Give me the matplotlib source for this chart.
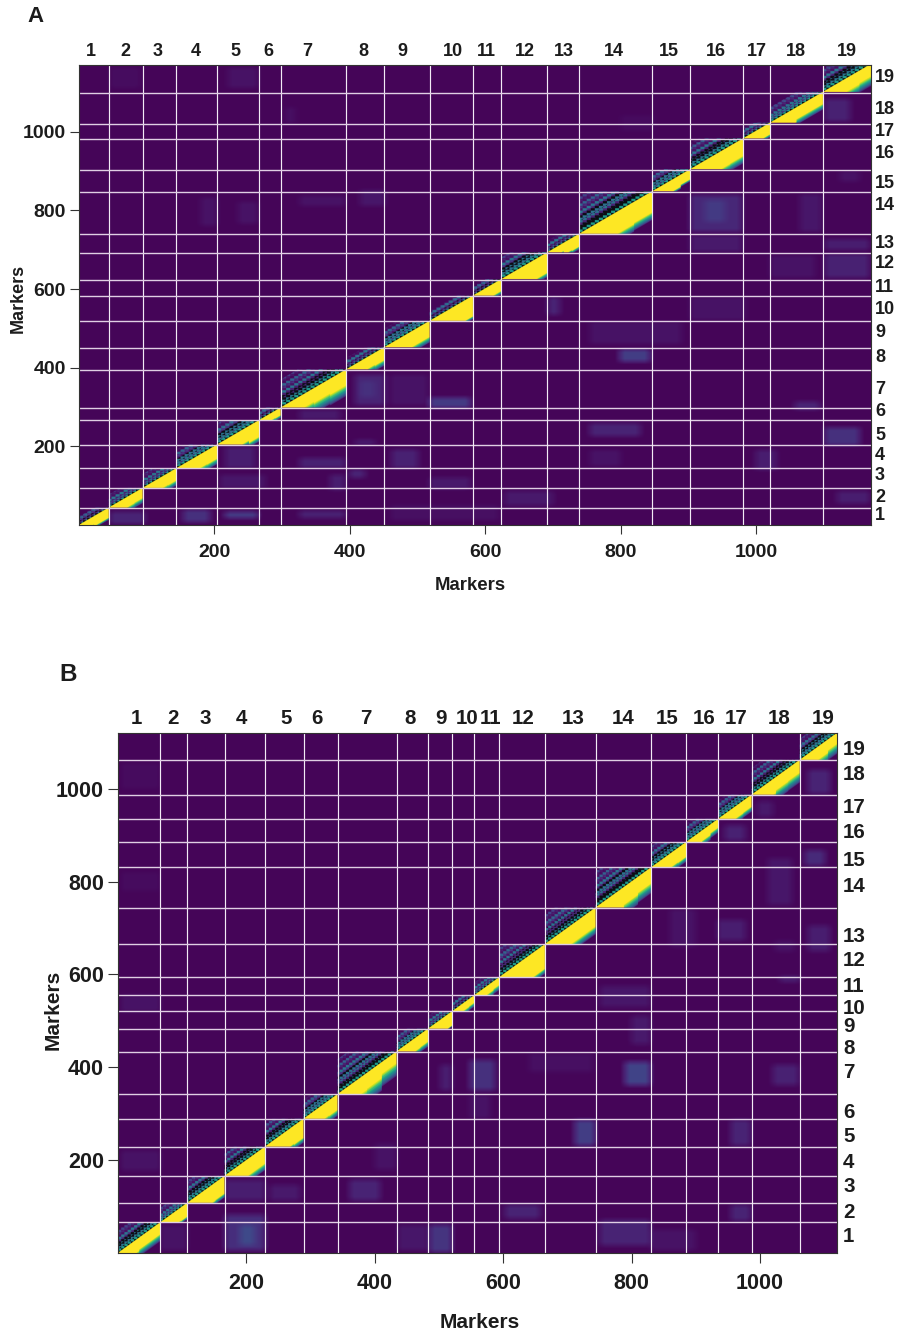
import numpy as np
import matplotlib
matplotlib.use('Agg')
import matplotlib.pyplot as plt

plt.rcParams['font.family'] = ['Liberation Sans', 'DejaVu Sans']
plt.rcParams['font.weight'] = 'bold'

W = 899
H = 1333
TEXT = '#1c1c1c'

chrom_names = [str(i) for i in range(1, 20)]

# chromosome ends, in markers
ends_a = [44, 94, 144, 204, 266, 298, 395, 451, 518, 582, 624, 692, 739, 847, 903, 981, 1021, 1099, 1170]
ends_b = [66, 108, 166, 229, 289, 342, 434, 483, 521, 555, 594, 665, 744, 831, 885, 935, 987, 1062, 1120]

# width of the saturated band under the diagonal, four steps along each chromosome
bands_a = [[12, 20, 25, 25], [24, 24, 26, 25], [28, 28, 29, 30], [36, 34, 34, 35], [27, 30, 36, 42],
           [16, 17, 18, 19], [31, 34, 37, 40], [20, 26, 30, 32], [43, 42, 40, 40], [50, 55, 55, 52],
           [28, 28, 29, 29], [44, 48, 50, 51], [14, 20, 30, 32], [60, 58, 56, 53], [37, 38, 30, 25],
           [49, 47, 45, 44], [30, 30, 30, 29], [39, 36, 30, 30], [40, 38, 34, 31]]
fades_a = [6, 14, 14, 15, 13, 8, 28, 15, 15, 8, 10, 12, 8, 20, 6, 20, 8, 15, 25]
reach_a = [22, 34, 36, 48, 54, 25, 72, 30, 48, 26, 24, 56, 30, 98, 48, 66, 28, 40, 62]

bands_b = [[31, 28, 25, 25], [25, 26, 28, 29], [43, 41, 38, 37], [30, 32, 36, 36], [34, 36, 38, 40],
           [30, 31, 32, 33], [26, 36, 34, 25], [27, 28, 28, 27], [30, 30, 30, 30], [17, 16, 16, 15],
           [22, 20, 18, 16], [44, 48, 52, 52], [44, 42, 40, 40], [47, 44, 38, 34], [27, 28, 30, 31],
           [28, 27, 22, 18], [28, 26, 26, 25], [33, 33, 28, 27], [36, 34, 28, 23]]
fades_b = [16, 6, 10, 15, 12, 14, 28, 12, 3, 10, 12, 12, 18, 22, 12, 12, 12, 22, 22]
reach_b = [50, 32, 50, 56, 54, 42, 76, 38, 28, 24, 28, 64, 66, 80, 46, 40, 40, 58, 46]

# faint off-diagonal patches, markers
patch_x0_a = [903, 925, 1065, 903, 1021, 1102, 1102, 1102, 1124, 755, 693, 903, 799, 408, 415, 518, 460, 326, 408, 462, 755, 1102, 216, 326, 371, 400, 208, 46, 154, 216, 326, 460, 630, 1120, 518, 755, 1000, 1058, 46, 220, 180, 235, 415, 326, 305, 800]
patch_x1_a = [979, 954, 1097, 979, 1087, 1168, 1168, 1139, 1153, 890, 710, 984, 843, 452, 437, 578, 515, 385, 437, 501, 829, 1153, 260, 393, 393, 422, 275, 97, 193, 264, 393, 620, 700, 1168, 578, 800, 1030, 1094, 90, 264, 204, 264, 452, 393, 320, 850]
patch_y0_a = [745, 770, 745, 694, 628, 628, 699, 1025, 872, 460, 534, 521, 415, 305, 325, 298, 305, 267, 204, 145, 226, 203, 145, 145, 89, 120, 94, 3, 8, 18, 18, 12, 50, 55, 92, 150, 140, 293, 1110, 1110, 760, 765, 810, 810, 1020, 1000]
patch_y1_a = [837, 824, 839, 735, 684, 687, 725, 1081, 898, 515, 577, 577, 445, 381, 365, 323, 381, 292, 216, 191, 257, 247, 198, 170, 127, 140, 127, 33, 38, 33, 36, 50, 85, 85, 120, 190, 190, 313, 1160, 1160, 830, 820, 850, 835, 1060, 1040]
patch_v_a = [0.11, 0.17, 0.06, 0.07, 0.05, 0.09, 0.08, 0.09, 0.05, 0.05, 0.1, 0.05, 0.18, 0.1, 0.14, 0.17, 0.05, 0.07, 0.08, 0.09, 0.1, 0.14, 0.08, 0.09, 0.08, 0.1, 0.06, 0.1, 0.14, 0.18, 0.09, 0.04, 0.07, 0.08, 0.07, 0.05, 0.08, 0.1, 0.035, 0.05, 0.05, 0.05, 0.06, 0.05, 0.04, 0.03]

patch_x0_b = [167, 190, 486, 751, 436, 66, 603, 237, 361, 167, 712, 790, 548, 502, 1020, 955, 955, 830, 934, 860, 1070, 1075, 945, 996, 1012, 1075, 1023, 1031, 800, 548, 751, 4, 4, 4, 4, 400, 640]
patch_x1_b = [229, 213, 520, 829, 483, 108, 657, 283, 408, 229, 743, 829, 587, 520, 1060, 985, 985, 900, 977, 900, 1101, 1109, 977, 1020, 1050, 1109, 1054, 1062, 829, 580, 829, 66, 66, 66, 66, 434, 740]
patch_y0_b = [6, 17, 2, 17, 6, 6, 75, 114, 114, 114, 232, 362, 351, 351, 362, 232, 70, 6, 674, 660, 835, 990, 889, 940, 750, 650, 650, 585, 450, 290, 530, 178, 520, 780, 1000, 180, 390]
patch_y1_b = [82, 60, 60, 71, 60, 60, 103, 146, 157, 157, 286, 411, 415, 405, 405, 286, 103, 50, 717, 740, 867, 1040, 921, 972, 850, 705, 672, 595, 510, 340, 575, 220, 555, 820, 1055, 235, 430]
patch_v_b = [0.13, 0.22, 0.15, 0.1, 0.06, 0.05, 0.1, 0.07, 0.1, 0.08, 0.18, 0.2, 0.14, 0.08, 0.09, 0.1, 0.1, 0.05, 0.08, 0.05, 0.12, 0.1, 0.09, 0.07, 0.06, 0.08, 0.05, 0.1, 0.07, 0.05, 0.06, 0.05, 0.05, 0.03, 0.03, 0.05, 0.04]

# top and right chromosome labels, picture pixels
top_x_a = [91, 125, 158, 196, 235, 268, 307, 363, 402, 453, 486, 525, 564, 614, 669, 716, 757, 796, 847]
right_y_a = [515, 497, 475, 455, 436, 412, 390, 358, 332, 310, 287, 264, 243, 205, 183, 153, 131, 109, 78]
top_x_b = [136, 173, 205, 241, 286, 317, 366, 410, 441, 467, 491, 523, 573, 623, 667, 704, 736, 779, 823]
right_y_b = [1237, 1212, 1187, 1162, 1137, 1112, 1073, 1048, 1027, 1009, 986, 961, 936, 886, 860, 833, 808, 775, 750]

tick_values = [200, 400, 600, 800, 1000]

edge_levels = [0.92, 0.8, 0.68, 0.58, 0.46, 0.36, 0.26, 0.14]
moire_levels = [[-1, -1, 0.55], [-1, 0.38, 0.1], [0.38, 0.08, -1], [0.4, 0.16, 0.05], [0.32, 0.1, 0.04], [0.2, 0.06, 0.02]]
base_level = 0.012
soften = 15


def add_block(mat, start, end, bands, fade, reach, tile):
    size = end - start
    for x in range(start, end):
        w = bands[(x - start) * len(bands) // size]
        for y in range(start, x + 1):
            d = x - y
            if d <= w:
                mat[y, x] = 1.0
            elif d < w + fade:
                mat[y, x] = edge_levels[(d - w) * len(edge_levels) // fade]
        for y in range(x + 1, end):
            d = y - x
            if d < reach:
                row = moire_levels[d * len(moire_levels) // reach]
                mat[y, x] = row[(x // tile - y // tile) % len(row)]


def make_matrix(ends, bands, fades, reach, x0, x1, y0, y1, v, tile):
    n = ends[-1]
    mat = np.full((n, n), base_level)
    for i in range(len(v)):
        part = mat[y0[i]:y1[i], x0[i]:x1[i]]
        mat[y0[i]:y1[i], x0[i]:x1[i]] = np.maximum(part, v[i])
    # patches have soft edges in the picture
    kernel = np.ones(soften) / soften
    mat = np.apply_along_axis(lambda r: np.convolve(r, kernel, mode='same'), 0, mat)
    mat = np.apply_along_axis(lambda r: np.convolve(r, kernel, mode='same'), 1, mat)
    mat = np.maximum(mat, base_level)
    start = 0
    for i, end in enumerate(ends):
        mat[start:end, start:end] = base_level
        add_block(mat, start, end, bands[i], fades[i], reach[i], tile)
        start = end
    return mat


def draw_panel(fig, box, ends, mat, tick_size, tick_len, top_x, top_y, right_x, right_y, chrom_size):
    left, top, right, bottom = box
    ax = fig.add_axes([left / W, 1 - bottom / H, (right - left) / W, (bottom - top) / H])
    n = ends[-1]
    cmap = plt.get_cmap('viridis').copy()
    cmap.set_under('#0c0c14')
    ax.imshow(mat, origin='lower', extent=(0, n, 0, n), aspect='auto', cmap=cmap, vmin=0, vmax=1,
              interpolation='antialiased', interpolation_stage='rgba')
    for e in ends[:-1]:
        ax.axvline(e, color='#f2ebf5', lw=0.85)
        ax.axhline(e, color='#e0cfe4', lw=1.0)
    ax.set_xticks(tick_values)
    ax.set_yticks(tick_values)
    ax.tick_params(axis='x', length=tick_len, width=0.8, color='#333333', labelsize=tick_size, pad=7, labelcolor=TEXT)
    ax.tick_params(axis='y', length=tick_len, width=0.8, color='#333333', labelsize=tick_size, pad=3, labelcolor=TEXT)
    for s in ax.spines.values():
        s.set_linewidth(0.8)
        s.set_color('#333333')
    for i, name in enumerate(chrom_names):
        fig.text(top_x[i] / W, 1 - top_y / H, name, ha='center', va='center', fontsize=chrom_size, color=TEXT)
        fig.text(right_x / W, 1 - right_y[i] / H, name, ha='left', va='center', fontsize=chrom_size, color=TEXT)
    return ax


fig = plt.figure(figsize=(W / 100, H / 100), dpi=100)

mat_a = make_matrix(ends_a, bands_a, fades_a, reach_a, patch_x0_a, patch_x1_a, patch_y0_a, patch_y1_a, patch_v_a, 6)
mat_b = make_matrix(ends_b, bands_b, fades_b, reach_b, patch_x0_b, patch_x1_b, patch_y0_b, patch_y1_b, patch_v_b, 5)

draw_panel(fig, (79, 65, 871, 525), ends_a, mat_a, 14, 6.5, top_x_a, 52, 875, right_y_a, 13)
draw_panel(fig, (118, 733, 837, 1253), ends_b, mat_b, 15.5, 7.2, top_x_b, 719, 843, right_y_b, 14.8)

fig.text(36 / W, 1 - 17 / H, 'A', ha='center', va='center', fontsize=16, color=TEXT)
fig.text(68 / W, 1 - 675 / H, 'B', ha='center', va='center', fontsize=17.5, color=TEXT)
fig.text(470 / W, 1 - 586 / H, 'Markers', ha='center', va='center', fontsize=13.4, color=TEXT)
fig.text(18 / W, 1 - 298 / H, 'Markers', ha='center', va='center', rotation=90, fontsize=13, color=TEXT)
fig.text(480 / W, 1 - 1323 / H, 'Markers', ha='center', va='center', fontsize=15, color=TEXT)
fig.text(53 / W, 1 - 1010 / H, 'Markers', ha='center', va='center', rotation=90, fontsize=15, color=TEXT)

fig.savefig('out.png', dpi=100)
